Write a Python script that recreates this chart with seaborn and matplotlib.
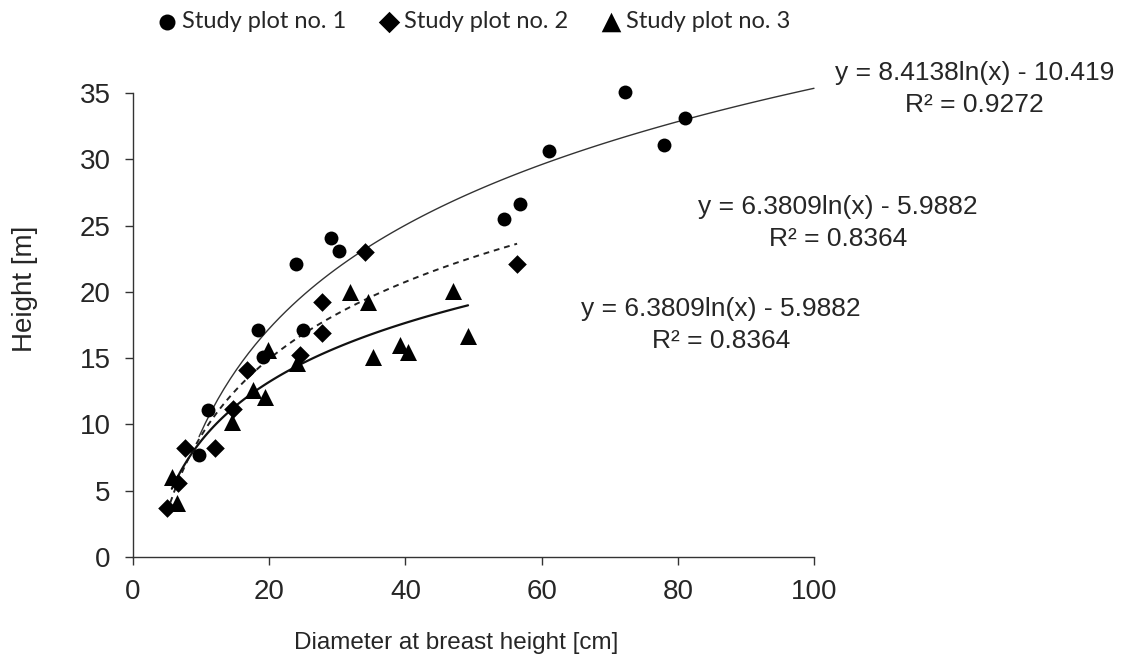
import numpy as np
import pandas as pd
import matplotlib
matplotlib.use("Agg")
import matplotlib.pyplot as plt
import seaborn as sns

# ---- data ----
plot1_dbh = [9.7, 11.0, 18.4, 19.1, 23.9, 25.0, 29.1, 30.2, 54.5, 56.8, 61.1, 72.2, 78.0, 81.0]
plot1_h   = [7.7, 11.1, 17.1, 15.1, 22.1, 17.1, 24.1, 23.1, 25.5, 26.6, 30.6, 35.1, 31.1, 33.1]

plot2_dbh = [5.0, 6.6, 7.6, 12.0, 14.7, 16.7, 24.5, 27.8, 27.8, 34.1, 56.4]
plot2_h   = [3.7, 5.6, 8.2, 8.2, 11.2, 14.1, 15.2, 19.2, 16.9, 23.0, 22.1]

plot3_dbh = [5.7, 6.4, 14.5, 17.6, 19.4, 19.8, 24.1, 31.9, 34.5, 35.2, 39.2, 40.4, 47.0, 49.2]
plot3_h   = [6.0, 4.1, 10.2, 12.6, 12.1, 15.6, 14.6, 20.0, 19.2, 15.1, 16.0, 15.5, 20.1, 16.7]

series_labels = ["Study plot no. 1", "Study plot no. 2", "Study plot no. 3"]
eq_labels = ["y = 8.4138ln(x) - 10.419\nR\u00b2 = 0.9272",
             "y = 6.3809ln(x) - 5.9882\nR\u00b2 = 0.8364",
             "y = 6.3809ln(x) - 5.9882\nR\u00b2 = 0.8364"]
x_ticks = [0, 20, 40, 60, 80, 100]
y_ticks = [0, 5, 10, 15, 20, 25, 30, 35]

# ---- style ----
sns.set_style("ticks")
plt.rcParams["font.family"] = ["Liberation Sans", "DejaVu Sans"]

W, H = 1136, 664
fig = plt.figure(figsize=(W / 100, H / 100), dpi=100)
ax = fig.add_axes([133 / W, 1 - 557 / H, (814 - 133) / W, (557 - 93) / H])

df1 = pd.DataFrame({"dbh": plot1_dbh, "h": plot1_h})
df2 = pd.DataFrame({"dbh": plot2_dbh, "h": plot2_h})
df3 = pd.DataFrame({"dbh": plot3_dbh, "h": plot3_h})

# trend lines (log fits computed by seaborn)
ax.set_xlim(min(plot1_dbh), 100)
sns.regplot(data=df1, x="dbh", y="h", logx=True, scatter=False, ci=None,
            truncate=False, ax=ax, color="#333333", line_kws=dict(lw=1.0, clip_on=False))
sns.regplot(data=df2, x="dbh", y="h", logx=True, scatter=False, ci=None,
            truncate=True, ax=ax, color="#222222",
            line_kws=dict(lw=1.4, linestyle=(0, (3, 2.5))))
sns.regplot(data=df3, x="dbh", y="h", logx=True, scatter=False, ci=None,
            truncate=True, ax=ax, color="#111111", line_kws=dict(lw=1.6))

# points
sns.scatterplot(data=df1, x="dbh", y="h", marker="o", s=100, color="black",
                edgecolor="black", linewidth=0, ax=ax, label=series_labels[0], zorder=5)
sns.scatterplot(data=df2, x="dbh", y="h", marker="D", s=90, color="black",
                edgecolor="black", linewidth=0, ax=ax, label=series_labels[1], zorder=5)
sns.scatterplot(data=df3, x="dbh", y="h", marker="^", s=150, color="black",
                edgecolor="black", linewidth=0, ax=ax, label=series_labels[2], zorder=5)
for coll in ax.collections:
    coll.set_clip_on(False)

ax.set_xlim(0, 100)
ax.set_ylim(0, 35)
ax.set_xticks(x_ticks)
ax.set_yticks(y_ticks)
ax.tick_params(axis="both", labelsize=20, length=6, width=1, color="#333333",
               direction="out", pad=10)
for s in ["top", "right"]:
    ax.spines[s].set_visible(False)
for s in ["left", "bottom"]:
    ax.spines[s].set_color("#333333")
    ax.spines[s].set_linewidth(1.0)

ax.set_xlabel("Diameter at breast height [cm]", fontsize=17.5)
ax.set_ylabel("Height [m]", fontsize=20)
ax.xaxis.set_label_coords(0.475, -0.162)
ax.yaxis.set_label_coords(-0.1395, 0.578)

# equations
eq_kw = dict(ha="center", va="center", fontsize=19, linespacing=1.4, clip_on=False)
ax.text(123.6, 35.3, eq_labels[0], **eq_kw)
ax.text(103.5, 25.2, eq_labels[1], **eq_kw)
ax.text(86.3, 17.5, eq_labels[2], **eq_kw)

handles, labels = ax.get_legend_handles_labels()
if ax.get_legend() is not None:
    ax.get_legend().remove()
fig.legend(handles, labels, loc="center left", bbox_to_anchor=(155 / W, 1 - 22 / H),
           ncol=3, frameon=False, handletextpad=0.15, columnspacing=1.3,
           handlelength=1.0, markerscale=1.15,
           prop=dict(family=["Lato", "DejaVu Sans"], size=17),
           borderaxespad=0, borderpad=0)

fig.savefig("out.png", dpi=100)
